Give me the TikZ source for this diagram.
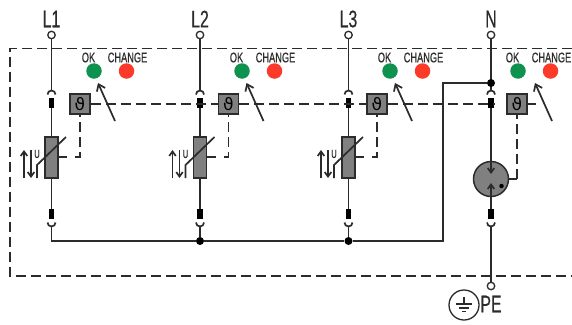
\documentclass[tikz,border=0pt]{standalone}
\usepackage{fontspec}
\usetikzlibrary{arrows.meta}
\newfontfamily\narrowfont[FakeStretch=0.66,FakeBold=0.4]{Liberation Sans}
\newfontfamily\thetafont{DejaVu Sans}
\definecolor{wirecol}{HTML}{2B2B2B}
\definecolor{partgray}{HTML}{808080}
\definecolor{okgreen}{HTML}{0F9150}
\definecolor{changered}{HTML}{FB3A2A}
\tikzset{
    wire/.style={draw=wirecol,line width=1.7pt},
    dashwire/.style={draw=wirecol,line width=1.7pt,dash pattern=on 10pt off 5pt},
    terminal/.style={circle,draw=wirecol,fill=white,line width=1.3pt,minimum size=7.5pt,inner sep=0pt},
    fuse/.style={rectangle,fill=black,minimum width=5.5pt,minimum height=10pt,inner sep=0pt},
    thermo/.style={rectangle,draw=wirecol,fill=partgray,line width=1.5pt,minimum width=20pt,minimum height=20pt,inner sep=0pt},
    varistor/.style={rectangle,draw=wirecol,fill=partgray,line width=1.5pt,minimum width=13pt,minimum height=41pt,inner sep=0pt},
    lamp/.style={circle,minimum size=15.5pt,inner sep=0pt},
    joint/.style={circle,fill=black,minimum size=8pt,inner sep=0pt},
    biglabel/.style={font=\narrowfont\fontsize{24}{24}\selectfont,text=wirecol,inner sep=0pt},
    smalllabel/.style={font=\narrowfont\fontsize{14}{14}\selectfont,text=wirecol,inner sep=0pt},
    barb/.style={-{Straight Barb[length=6pt,width=9pt]}},
    minibarb/.style={-{Straight Barb[length=4.5pt,width=6.5pt]}},
}
% terminal, upper fuse and hat of one conductor
\newcommand\UpperPart[3]{%
    \node[terminal] (#1T) at (#2,35) {};
    \node[biglabel] (#1Name) at (#2,19) {#3};
    \node[fuse] (#1F) at (#2,103) {};
    \coordinate (#1Hat) at (#2,90);
    \draw[wire] (#1T) -- (#1Hat);
    \draw[wire] (#2-4,94.5) arc[start angle=180,end angle=0,radius=4pt];
}
% lower fuse and cup
\newcommand\LowerPart[2]{%
    \node[fuse] (#1G) at (#2,214) {};
    \coordinate (#1Cup) at (#2,227);
    \draw[wire] (#2-4,222.5) arc[start angle=180,end angle=360,radius=4pt];
}
% thermal box, lamps and arrow: name, box x, green lamp x
\newcommand\Indicator[3]{%
    \node[thermo] (#1Box) at (#2,104) {\thetafont\fontsize{17}{17}\selectfont ϑ};
    \node[lamp,fill=okgreen] (#1Ok) at (#3,71) {};
    \node[lamp,fill=changered] (#1Chg) at (#3+32.5,71) {};
    \node[smalllabel] (#1OkText) at (#3-5.5,57.5) {OK};
    \node[smalllabel] (#1ChgText) at (#3+33.5,57.5) {CHANGE};
    \coordinate (#1ArrA) at (#2+35,121);
    \coordinate (#1ArrB) at (#2+18,83);
    \draw[wire,barb] (#1ArrA) -- (#1ArrB);
}
% varistor with U arrows
\newcommand\Varistor[3]{%
    \node[varistor] (#1V) at (#2,157.5) {};
    \draw[wire] (#1F) -- (#1V);
    \draw[wire] (#1V) -- (#1G);
    \draw[wire] (#2-14.5,178) -- (#2-14.5,165) -- (#2+14.5,137);
    \draw[wire,minibarb] (#2-27.5,178) -- (#2-27.5,150);
    \draw[wire,minibarb] (#2-20.5,150) -- (#2-20.5,178);
    \node[font=\narrowfont\fontsize{11.5}{11.5}\selectfont,text=wirecol,inner sep=0pt] (#1U) at (#2-14.5,154) {U};
    \coordinate (#1Side) at (#3,157);
    \coordinate (#1SideIn) at (#3-5,157);
    \draw[wire] (#1V.east |- #1Side) -- (#2+15.5,157);
    \draw[dashwire] (#1SideIn) -- (#1Side) -- (#1Box.south);
}

\begin{document}
\begin{tikzpicture}[x=1pt,y=-1pt]
    \useasboundingbox (0,0) rectangle (572,324);
    \fill[white] (0,0) rectangle (572,324);
    % housing
    \draw[dashwire] (572,48.5) -- (10,48.5) -- (10,276) -- (572,276);

    \UpperPart{A}{51.5}{L1}
    \UpperPart{B}{200}{L2}
    \UpperPart{C}{348.5}{L3}
    \UpperPart{D}{491}{N}
    \LowerPart{A}{51.5}
    \LowerPart{B}{200}
    \LowerPart{C}{348.5}
    \LowerPart{D}{491}

    \Indicator{A}{80}{94}
    \Indicator{B}{228.5}{242}
    \Indicator{C}{377}{390}
    \Indicator{D}{517}{518}

    % thermal link
    \coordinate (LinkEnd) at (495,104);
    \coordinate (StubEnd) at (536,104);
    \draw[dashwire] (ABox) -- (BBox);
    \draw[dashwire] (BBox) -- (CBox);
    \draw[dashwire] (CBox) -- (LinkEnd);
    \draw[wire] (DBox) -- (StubEnd);

    \Varistor{A}{51.5}{80}
    \Varistor{B}{200}{228.5}
    \Varistor{C}{348.5}{377}

    % spark gap
    \node[circle,draw=wirecol,fill=partgray,line width=1.5pt,minimum size=35pt,inner sep=0pt] (DGap) at (491,179) {};
    \coordinate (DGapIn) at (491,174);
    \coordinate (DGapOut) at (491,183);
    \node[circle,fill=black,minimum size=4.5pt,inner sep=0pt] (DDot) at (501.5,186) {};
    \draw[wire,minibarb] (DF) -- (DGapIn);
    \draw[wire,minibarb] (DG) -- (DGapOut);
    \coordinate (DSide) at (517,179);
    \draw[wire] (DGap) ++(17.5,0) -- (DSide);
    \draw[dashwire] (DSide) -- (DBox.south);

    % bonding
    \node[joint] (JN) at (491,83) {};
    \node[joint] (JB) at (200,241) {};
    \node[joint] (JC) at (348.5,241) {};
    \coordinate (Corner) at (443,83);
    \coordinate (CornerLow) at (443,241);
    \coordinate (StartLow) at (51.5,241);
    \draw[wire] (JN) -- (Corner) -- (CornerLow) -- (JC) -- (JB) -- (StartLow) -- (ACup);
    \draw[wire] (BCup) -- (JB);
    \draw[wire] (CCup) -- (JC);

    % earth
    \node[terminal] (DPE) at (491,286) {};
    \draw[wire] (DCup) -- (DPE);
    \node[biglabel] (PEName) at (491,304) {PE};
    \node[circle,draw=wirecol,line width=1.3pt,minimum size=30pt,inner sep=0pt] (Earth) at (464,305) {};
    \coordinate (EarthTop) at (464,296.5);
    \coordinate (EarthMid) at (464,304);
    \draw[wire] (EarthTop) -- (EarthMid);
    \draw[wire] (456,304) -- (472,304);
    \draw[wire,line width=1.2pt] (459,308) -- (469,308);
    \draw[wire,line width=1.2pt] (462,311.5) -- (466,311.5);
\end{tikzpicture}
\end{document}
